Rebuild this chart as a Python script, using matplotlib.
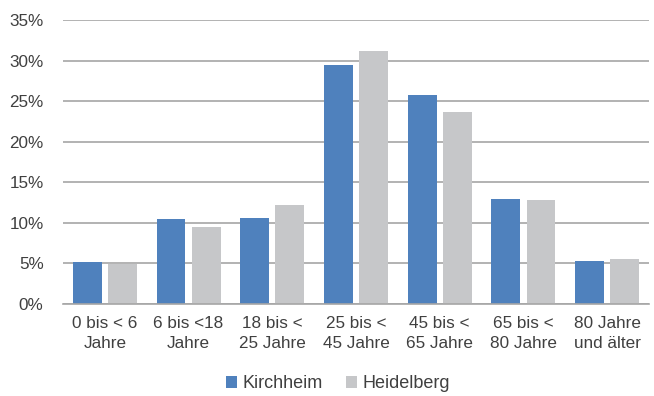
import matplotlib
matplotlib.use("Agg")
import matplotlib.pyplot as plt
import numpy as np
from matplotlib.ticker import FuncFormatter

plt.rcParams['font.family'] = ['Liberation Sans', 'DejaVu Sans']

categories = ["0 bis < 6\nJahre", "6 bis <18\nJahre", "18 bis <\n25 Jahre", "25 bis <\n45 Jahre",
              "45 bis <\n65 Jahre", "65 bis <\n80 Jahre", "80 Jahre\nund älter"]
kirchheim = [5.2, 10.5, 10.65, 29.4, 25.7, 12.9, 5.35]
heidelberg = [4.9, 9.45, 12.15, 31.15, 23.7, 12.85, 5.5]
series_names = ["Kirchheim", "Heidelberg"]
yticks = [0, 5, 10, 15, 20, 25, 30, 35]

blue = "#4F81BD"
gray = "#C6C7C9"
text_col = "#404040"
grid_col = "#A6A6A6"

fig = plt.figure(figsize=(6.54, 3.96), dpi=100)
ax = fig.add_axes([63/654, 1-304/396, 586/654, 284/396])

x = np.arange(len(categories))
w = 0.345
off = 0.21
ax.bar(x - off, kirchheim, w, color=blue, label=series_names[0], zorder=3)
ax.bar(x + off, heidelberg, w, color=gray, label=series_names[1], zorder=3)

ax.set_xlim(-0.5, len(categories) - 0.5)
ax.set_ylim(0, 35)
ax.set_yticks(yticks)
ax.yaxis.set_major_formatter(FuncFormatter(lambda v, p: f"{int(v)}%"))
ax.grid(axis='y', color=grid_col, linewidth=1.2, zorder=0)
ax.set_xticks(x)
ax.set_xticklabels(categories, fontsize=12.3, color=text_col, linespacing=1.35)
ax.tick_params(axis='y', labelsize=12.3, labelcolor=text_col, length=0, pad=14)
ax.tick_params(axis='x', length=0, pad=9)
for s in ['top', 'right', 'left']:
    ax.spines[s].set_visible(False)
ax.spines['bottom'].set_color(grid_col)
ax.spines['bottom'].set_linewidth(1.2)
ax.spines['bottom'].set_zorder(4)

leg = fig.legend(loc='center', bbox_to_anchor=(338/654, 1-384/396), ncol=2, frameon=False,
                 fontsize=13, handlelength=0.6, handleheight=0.6, handletextpad=0.3,
                 columnspacing=1.3)
for t in leg.get_texts():
    t.set_color(text_col)

fig.savefig("out.png", dpi=100)
